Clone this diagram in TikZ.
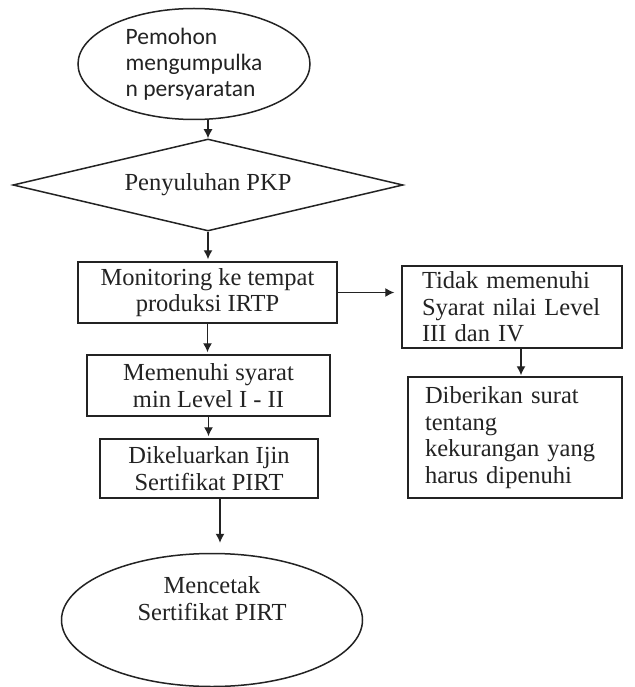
\documentclass[tikz,border=0pt]{standalone}
\usepackage{fontspec}
\setmainfont{Liberation Serif}
\newfontfamily\carlito{Carlito}
\usetikzlibrary{shapes.geometric,arrows.meta}
\definecolor{white}{RGB}{255,255,255}
\definecolor{dark_gray}{RGB}{35,35,35}

\begin{document}
\begin{tikzpicture}[x=1pt,y=-1pt,
	box/.style={rectangle,draw=dark_gray,line width=1.5pt,fill=white,inner sep=0pt,align=center,text=dark_gray,font=\fontsize{24.5}{26.5}\selectfont},
	arrow/.style={dark_gray,line width=1.3pt,-{Latex[length=9pt,width=9pt]}}]
	\useasboundingbox[fill=white] (0,0) rectangle (634,687);
	\node[box,ellipse,minimum width=232pt,minimum height=111pt,align=left,font=\carlito\fontsize{23.5}{26}\selectfont] (1) at (194,64) {Pemohon\\mengumpulka\\n persyaratan};
	\node[box,diamond,aspect=4.2,minimum width=390pt,minimum height=92pt] (2) at (208,185) {Penyuluhan PKP};
	\node[box,minimum width=259pt,minimum height=61pt] (3) at (207.5,292.5) {Monitoring ke tempat\\produksi IRTP};
	\node[box,minimum width=243pt,minimum height=61pt] (4) at (208.5,385.5) {Memenuhi syarat\\min Level I - II};
	\node[box,minimum width=218pt,minimum height=59pt] (5) at (209,468.5) {Dikeluarkan Ijin\\Sertifikat PIRT};
	\node[box,minimum width=220pt,minimum height=82pt,text width=180pt,align=left] (6) at (512,307) {Tidak memenuhi\\Syarat nilai Level\\III dan IV};
	\node[box,minimum width=214pt,minimum height=121pt,text width=180pt,align=left] (7) at (515,437.5) {Diberikan surat\\tentang\\kekurangan yang\\harus dipenuhi};
	\node[box,ellipse,minimum width=301pt,minimum height=133pt,text depth=43pt] (8) at (212,620) {Mencetak\\Sertifikat PIRT};

	\draw[arrow] (2.north |- 1.south) -- (2.north);
	\foreach \x/\y in {2/3,3/4,4/5}
		\draw[arrow,shorten >=2pt] (\x.south) -- (\x.south |- \y.north);
	\draw[arrow,shorten >=10pt] ([xshift=11pt]5.south) -- ([xshift=11pt]5.south |- 8.north);
	\draw[arrow,shorten >=7pt] (3.east) -- (3.east -| 6.west);
	\draw[arrow,shorten >=1pt] ([xshift=9pt]6.south) -- ([xshift=9pt]6.south |- 7.north);
\end{tikzpicture}
\end{document}
